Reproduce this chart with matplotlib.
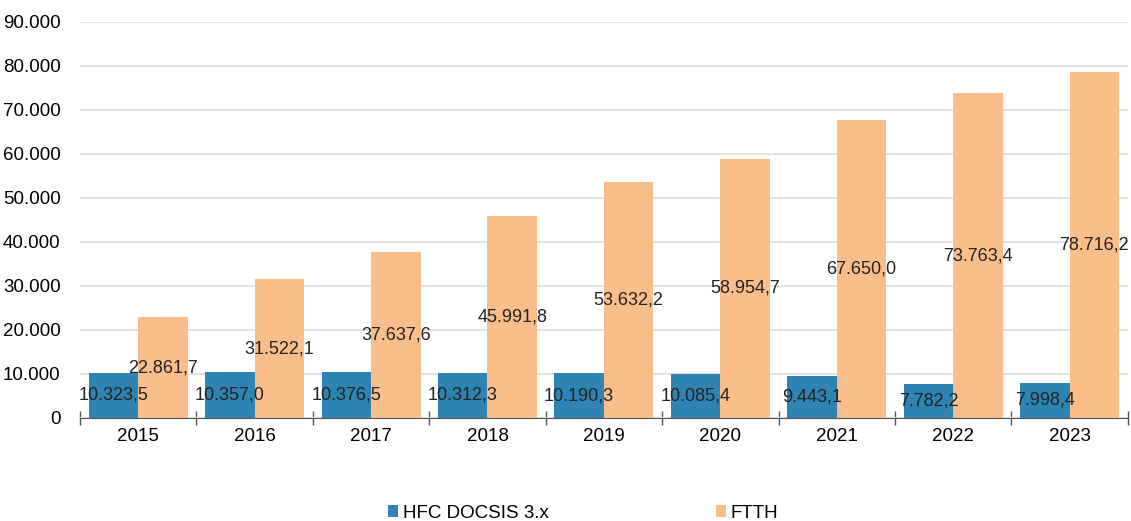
import numpy as np
import matplotlib.pyplot as plt
from matplotlib.ticker import FuncFormatter

plt.rcParams['font.family'] = ['Liberation Sans', 'DejaVu Sans']

years = ['2015', '2016', '2017', '2018', '2019', '2020', '2021', '2022', '2023']
hfc = [10323.5, 10357.0, 10376.5, 10312.3, 10190.3, 10085.4, 9443.1, 7782.2, 7998.4]
ftth = [22861.7, 31522.1, 37637.6, 45991.8, 53632.2, 58954.7, 67650.0, 73763.4, 78716.2]

c_hfc = '#2e84b3'
c_ftth = '#fabe8b'


def de_num(v, dec=1):
    # 12345.6 -> 12.345,6
    s = f'{v:,.{dec}f}'
    return s.replace(',', 'X').replace('.', ',').replace('X', '.')


fig = plt.figure(figsize=(11.31, 5.21), dpi=100)
ax = fig.add_axes([0.0707, 0.1977, 0.9265, 0.7603])

x = np.arange(len(years))
w = 0.425
b1 = ax.bar(x - w / 2, hfc, w, color=c_hfc, label='HFC DOCSIS 3.x', zorder=2)
b2 = ax.bar(x + w / 2, ftth, w, color=c_ftth, label='FTTH', zorder=2)

ax.bar_label(b1, labels=[de_num(v) for v in hfc], label_type='center', fontsize=13, color='#222222')
ax.bar_label(b2, labels=[de_num(v) for v in ftth], label_type='center', fontsize=13, color='#222222')

ax.set_xlim(-0.5, len(years) - 0.5)
ax.set_ylim(0, 90000)
ax.set_yticks(np.arange(0, 90001, 10000))
ax.yaxis.set_major_formatter(FuncFormatter(lambda v, p: de_num(v, 0)))
ax.grid(axis='y', color='#dedede', lw=1.2, zorder=0)

# year labels centred, tick marks on the category boundaries
ax.set_xticks(np.arange(-0.5, len(years)), minor=False)
ax.set_xticklabels([])
ax.set_xticks(x, minor=True)
ax.set_xticklabels(years, minor=True)
ax.tick_params(axis='x', which='major', direction='inout', length=10, width=1, color='#555555')
ax.tick_params(axis='x', which='minor', length=0, labelsize=13.5, pad=7)
ax.tick_params(axis='y', length=0, labelsize=13.5, pad=14)

for s in ['top', 'right', 'left']:
    ax.spines[s].set_visible(False)
ax.spines['bottom'].set_color('#555555')

ax.legend(loc='center', bbox_to_anchor=(0.48, -0.24), ncol=2, frameon=False,
          fontsize=13.5, handlelength=0.55, handleheight=0.55, handletextpad=0.25,
          columnspacing=8.9)

fig.savefig('out.png', dpi=100)
